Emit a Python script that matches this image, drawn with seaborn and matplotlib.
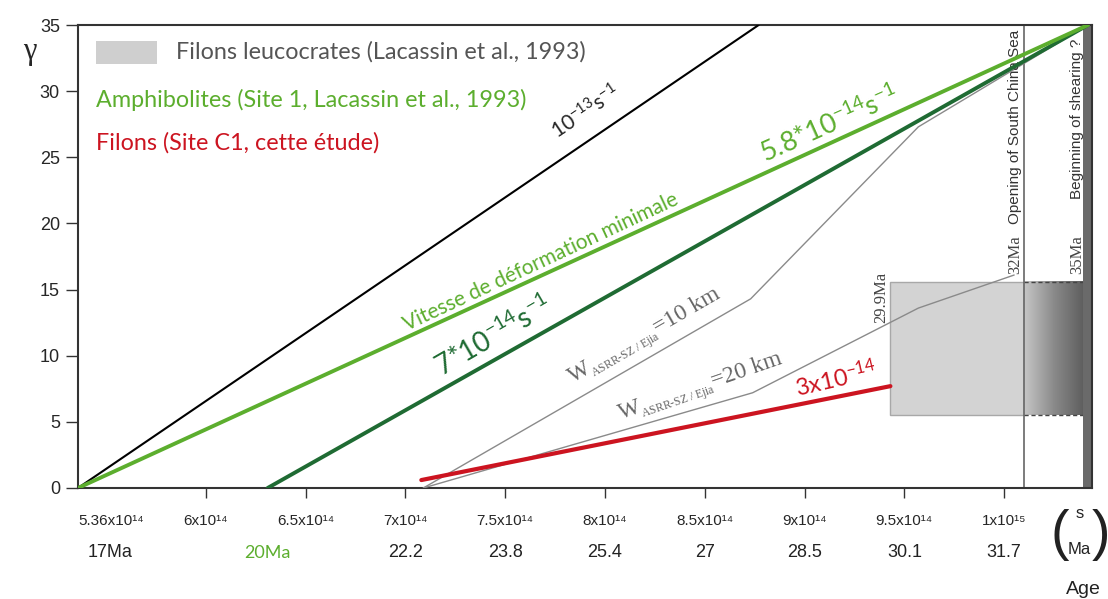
import numpy as np
import seaborn as sns
import matplotlib.pyplot as plt
from matplotlib.patches import Rectangle
from matplotlib.colors import LinearSegmentedColormap

# temps en unites de 1e14 s, gamma sans dimension
x_1e13 = [5.36, 8.77]
y_1e13 = [0, 35]
x_amph = [5.36, 10.42]
y_amph = [0, 35]
x_min = [6.31, 10.42]
y_min = [0, 35]
x_filons = [7.08, 9.43]
y_filons = [0.6, 7.7]
x_w10 = [7.09, 8.73, 9.57, 10.42]
y_w10 = [0, 14.3, 27.3, 35]
x_w20 = [7.09, 8.74, 9.57, 10.05]
y_w20 = [0, 7.2, 13.6, 16.1]

# filons leucocrates (boite grise) et reperes
box_x = [9.43, 10.10]
box_y = [5.5, 15.6]
x_opening = 10.10
x_shearing = 10.42

tick_pos = [5.36, 6, 6.5, 7, 7.5, 8, 8.5, 9, 9.5, 10]
tick_labels = ['5.36x10¹⁴', '6x10¹⁴', '6.5x10¹⁴', '7x10¹⁴', '7.5x10¹⁴', '8x10¹⁴',
               '8.5x10¹⁴', '9x10¹⁴', '9.5x10¹⁴', '1x10¹⁵']
age_pos = [5.36, 6.31, 7, 7.5, 8, 8.5, 9, 9.5, 10]
age_labels = ['17Ma', '20Ma', '22.2', '23.8', '25.4', '27', '28.5', '30.1', '31.7']

sns.set_style('ticks')
plt.rcParams['font.family'] = ['Liberation Sans', 'DejaVu Sans']
plt.rcParams['mathtext.fontset'] = 'custom'
plt.rcParams['mathtext.rm'] = 'Liberation Serif'
plt.rcParams['mathtext.it'] = 'Liberation Serif:italic'
plt.rcParams['mathtext.sf'] = 'Lato'

LIGHT = '#5cae2e'
DARK = '#1f6b33'
RED = '#cc1420'
GREY = '#8a8a8a'
HUMAN = ['Lato', 'DejaVu Sans']
SERIF = ['Liberation Serif', 'DejaVu Serif']

fig = plt.figure(figsize=(11.08, 5.99), dpi=100)
ax = fig.add_axes([78 / 1108, 1 - 488 / 599, (1092 - 78) / 1108, 463 / 599])

# boite grise + degrade
ax.add_patch(Rectangle((box_x[0], box_y[0]), box_x[1] - box_x[0], box_y[1] - box_y[0],
                       facecolor='#d3d3d3', edgecolor='#a8a8a8', lw=1, zorder=1))
cmap = LinearSegmentedColormap.from_list('g', ['#c6c6c6', '#8a8a8a', '#5e5e5e'])
ax.imshow(np.linspace(0, 1, 200).reshape(1, -1), cmap=cmap, aspect='auto',
          extent=[x_opening, x_shearing - 0.02, box_y[0], box_y[1]], zorder=1)
for yy in box_y:
    ax.plot([x_opening, x_shearing], [yy, yy], ls=(0, (3, 2)), color='#444', lw=1, zorder=2)
ax.axvspan(x_shearing - 0.025, 10.44, color='#6a6a6a', lw=0, zorder=2)
ax.axvline(x_opening, color='#666', lw=1.2, zorder=2)

sns.lineplot(x=x_w10, y=y_w10, color=GREY, lw=1, ax=ax, zorder=3)
sns.lineplot(x=x_w20, y=y_w20, color=GREY, lw=1, ax=ax, zorder=3)
sns.lineplot(x=x_1e13, y=y_1e13, color='black', lw=1.5, ax=ax, zorder=4)
sns.lineplot(x=x_min, y=y_min, color=DARK, lw=2.8, ax=ax, zorder=4)
sns.lineplot(x=x_amph, y=y_amph, color=LIGHT, lw=2.8, ax=ax, zorder=5)
sns.lineplot(x=x_filons, y=y_filons, color=RED, lw=3, ax=ax, zorder=5)

ax.set_xlim(5.36, 10.44)
ax.set_ylim(0, 35)

# axes
for s in ax.spines.values():
    s.set_color('#333')
    s.set_linewidth(1.5)
ax.set_yticks(range(0, 36, 5))
ax.tick_params(axis='y', length=9, width=1, color='#333', labelsize=13, pad=4)
ax.set_xticks(tick_pos)
ax.set_xticklabels(tick_labels)
ax.tick_params(axis='x', length=7, width=1, color='#333', labelsize=11, pad=12)
ax.xaxis.get_major_ticks()[0].tick1line.set_visible(False)
ax.get_xticklabels()[0].set_horizontalalignment('left')
for p, lab in zip(age_pos, age_labels):
    ax.annotate(lab, xy=(p, -0.14), xycoords=ax.get_xaxis_transform(),
                xytext=(32 if lab == '17Ma' else 0, 0), textcoords='offset pixels',
                fontsize=13, ha='center', va='center',
                color=LIGHT if lab == '20Ma' else '#222',
                family=HUMAN if lab == '20Ma' else None)

fig.text(30 / 1108, 1 - 52 / 599, 'γ', fontsize=22, family=SERIF, ha='center', va='center')
fig.text(1060 / 1108, 1 - 535 / 599, '(', fontsize=40, ha='center', va='center', color='#222')
fig.text(1101 / 1108, 1 - 535 / 599, ')', fontsize=40, ha='center', va='center', color='#222')
fig.text(1080 / 1108, 1 - 514 / 599, 's', fontsize=12, ha='center', va='center', color='#222')
fig.text(1079 / 1108, 1 - 549 / 599, 'Ma', fontsize=12, ha='center', va='center', color='#222')
fig.text(1083 / 1108, 1 - 589 / 599, 'Age', fontsize=14, ha='center', va='center', color='#222')

# legende
ax.add_patch(Rectangle((0.0178, 0.916), 0.060, 0.049, transform=ax.transAxes,
                       facecolor='#cfcfcf', edgecolor='none'))
ax.text(0.0966, 0.941, 'Filons leucocrates (Lacassin et al., 1993)', transform=ax.transAxes,
        fontsize=16.8, color='#555', family=HUMAN, va='center')
ax.text(0.0178, 0.838, 'Amphibolites (Site 1, Lacassin et al., 1993)', transform=ax.transAxes,
        fontsize=16.8, color=LIGHT, family=HUMAN, va='center')
ax.text(0.0178, 0.745, 'Filons (Site C1, cette étude)', transform=ax.transAxes,
        fontsize=16.8, color=RED, family=HUMAN, va='center')

# etiquettes des droites
ax.text(7.905, 28.4, r'$\mathsf{10^{-13}s^{-1}}$', rotation=34, fontsize=15,
        ha='center', va='center')
ax.text(9.13, 27.4, r'$\mathsf{5.8{*}10^{-14}s^{-1}}$', rotation=24, fontsize=19.5,
        ha='center', va='center', color=LIGHT)
ax.text(7.68, 17.1, 'Vitesse de déformation minimale', rotation=25, fontsize=15,
        ha='center', va='center', color=LIGHT, family=HUMAN)
ax.text(7.445, 11.4, r'$\mathsf{7{*}10^{-14}s^{-1}}$', rotation=30, fontsize=20,
        ha='center', va='center', color=DARK)
ax.text(9.16, 8.2, r'$\mathsf{3x10^{-14}}$', rotation=13, fontsize=17,
        ha='center', va='center', color=RED)
ax.text(8.205, 11.3, r'W$_{{}_{\mathrm{ASRR‐SZ\ /\ Ejia}}}$=10 km', rotation=30, fontsize=17,
        ha='center', va='center', color='#666', family=SERIF)
ax.text(8.48, 7.45, r'W$_{{}_{\mathrm{ASRR‐SZ\ /\ Ejia}}}$=20 km', rotation=19, fontsize=17,
        ha='center', va='center', color='#666', family=SERIF)

# reperes verticaux
ax.text(10.055, 27.3, 'Opening of South China Sea', rotation=90, fontsize=11,
        ha='center', va='center', color='#333')
ax.text(10.365, 27.9, 'Beginning of shearing ?', rotation=90, fontsize=11,
        ha='center', va='center', color='#333')
ax.text(10.055, 16.2, '32Ma', rotation=90, fontsize=12, ha='center', va='bottom',
        color='#444', family=SERIF)
ax.text(10.365, 16.2, '35Ma', rotation=90, fontsize=12, ha='center', va='bottom',
        color='#444', family=SERIF)
ax.text(9.385, 16.3, '29.9Ma', rotation=90, fontsize=12, ha='center', va='top',
        color='#444', family=SERIF)

fig.savefig('out.png', dpi=100)
